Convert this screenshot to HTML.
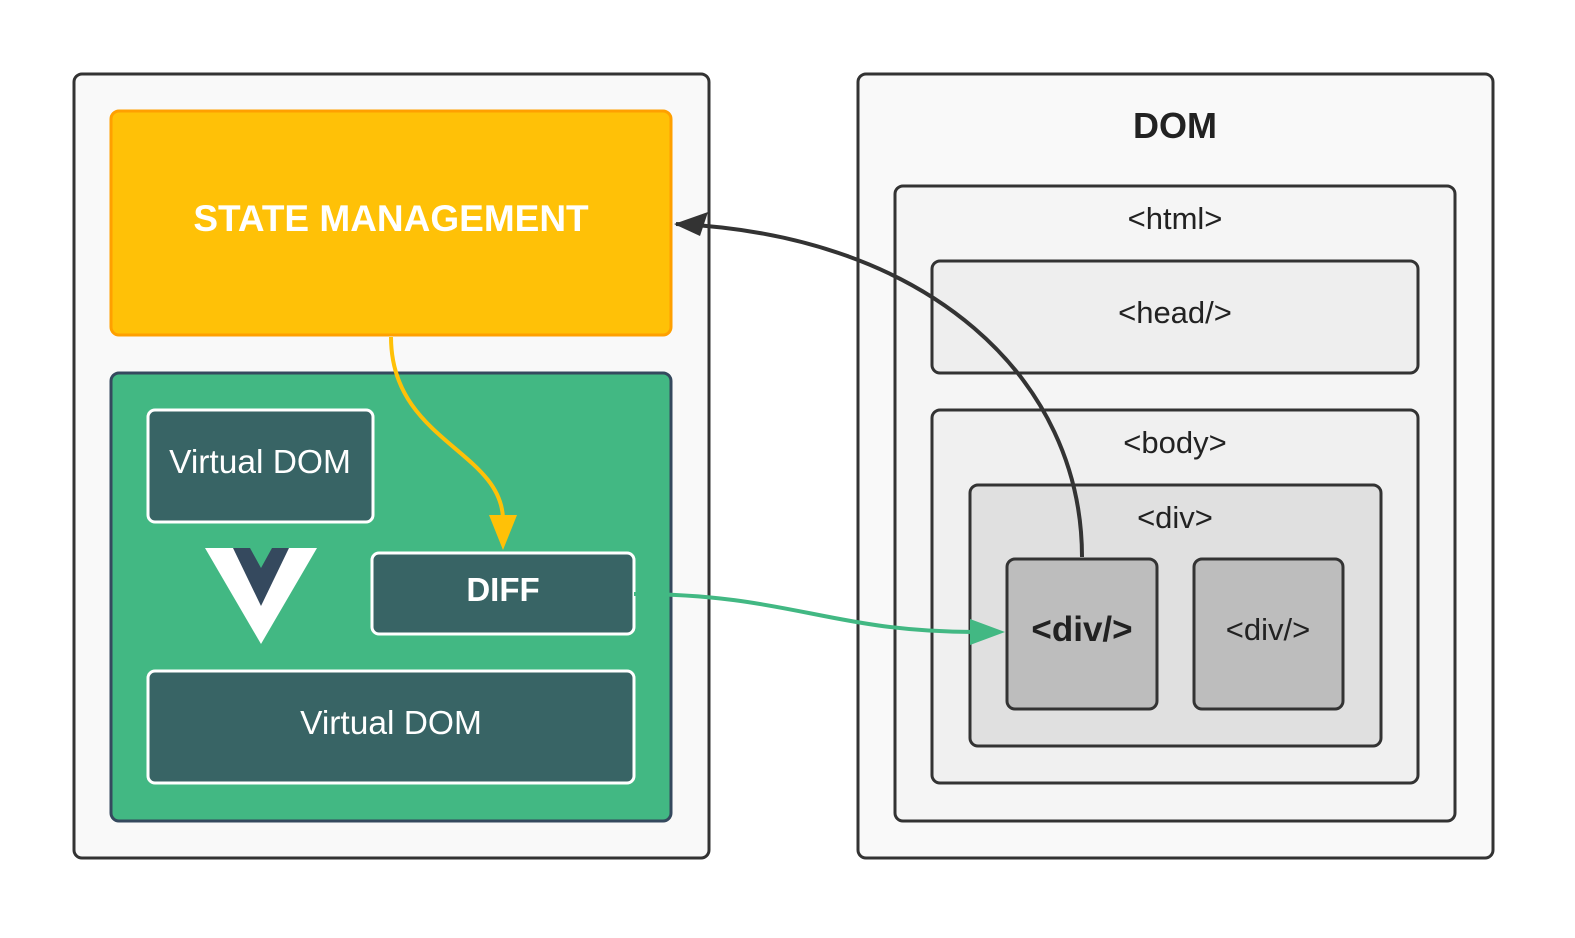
<!DOCTYPE html>
<html><head><meta charset="utf-8"><style>
html,body{margin:0;padding:0;background:#fff;}
svg{display:block;}
text{font-family:"Liberation Sans",Arial,sans-serif;}
</style></head><body>
<svg width="1575" height="938" viewBox="0 0 1575 938" xmlns="http://www.w3.org/2000/svg">
<rect x="74" y="74" width="635" height="784" rx="8" fill="#f9f9f9" stroke="#333" stroke-width="3"/>
<rect x="111" y="111" width="560" height="224" rx="8" fill="#ffc107" stroke="#ffa000" stroke-width="3"/>
<text x="391" y="231" font-size="37" font-weight="bold" fill="#fff" text-anchor="middle">STATE MANAGEMENT</text>
<rect x="111" y="373" width="560" height="448" rx="8" fill="#42b883" stroke="#35495e" stroke-width="3"/>
<rect x="148" y="410" width="225" height="112" rx="7" fill="#386465" stroke="#fff" stroke-width="3"/>
<text x="260" y="473" font-size="33.5" fill="#fff" text-anchor="middle">Virtual DOM</text>
<polygon points="205,548 317,548 261,644" fill="#fff"/>
<polygon points="233,548 289,548 261,606" fill="#35495e"/>
<polygon points="250,548 272,548 261,568" fill="#42b883"/>
<rect x="372" y="553" width="262" height="81" rx="7" fill="#386465" stroke="#fff" stroke-width="3"/>
<text x="503" y="601" font-size="33" font-weight="bold" fill="#fff" text-anchor="middle">DIFF</text>
<rect x="148" y="671" width="486" height="112" rx="7" fill="#386465" stroke="#fff" stroke-width="3"/>
<text x="391" y="734" font-size="33.5" fill="#fff" text-anchor="middle">Virtual DOM</text>

<rect x="858" y="74" width="635" height="784" rx="8" fill="#f9f9f9" stroke="#333" stroke-width="3"/>
<text x="1175" y="138" font-size="36" font-weight="bold" fill="#222" text-anchor="middle">DOM</text>
<rect x="895" y="186" width="560" height="635" rx="8" fill="#f5f5f5" stroke="#333" stroke-width="3"/>
<text x="1175" y="229" font-size="31" fill="#222" text-anchor="middle">&lt;html&gt;</text>
<rect x="932" y="261" width="486" height="112" rx="8" fill="#eeeeee" stroke="#333" stroke-width="3"/>
<text x="1175" y="323" font-size="31" fill="#222" text-anchor="middle">&lt;head/&gt;</text>
<rect x="932" y="410" width="486" height="373" rx="8" fill="#f0f0f0" stroke="#333" stroke-width="3"/>
<text x="1175" y="453" font-size="31" fill="#222" text-anchor="middle">&lt;body&gt;</text>
<rect x="970" y="485" width="411" height="261" rx="8" fill="#e0e0e0" stroke="#333" stroke-width="3"/>
<text x="1175" y="528" font-size="31" fill="#222" text-anchor="middle">&lt;div&gt;</text>
<rect x="1007" y="559" width="150" height="150" rx="8" fill="#bdbdbd" stroke="#333" stroke-width="3"/>
<text x="1082" y="641" font-size="35" font-weight="bold" fill="#222" text-anchor="middle">&lt;div/&gt;</text>
<rect x="1194" y="559" width="149" height="150" rx="8" fill="#bdbdbd" stroke="#333" stroke-width="3"/>
<text x="1268" y="640" font-size="31" fill="#222" text-anchor="middle">&lt;div/&gt;</text>

<path d="M1082 557 C1082 380 930 235 676 224" fill="none" stroke="#333" stroke-width="4"/>
<polygon points="674,224 708,212 700,236" fill="#333"/>
<path d="M391 337 C391 440 500 450 503 518" fill="none" stroke="#ffc107" stroke-width="4"/>
<polygon points="503,550 489,515 517,515" fill="#ffc107"/>
<path d="M634 594 C790 594 830 632 975 632" fill="none" stroke="#42b883" stroke-width="4"/>
<polygon points="1005,632 970,619 970,645" fill="#42b883"/>
</svg>
</body></html>
